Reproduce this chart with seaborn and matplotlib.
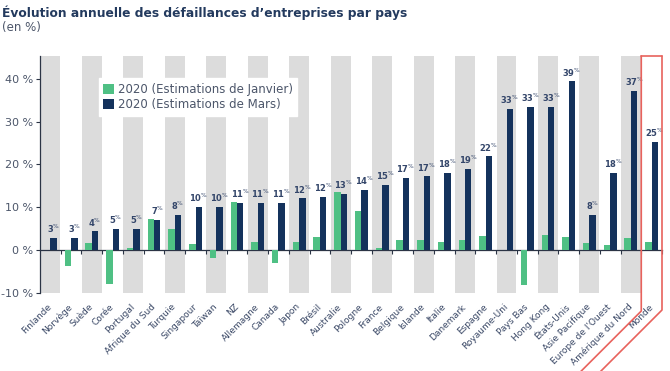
import numpy as np
import pandas as pd
import seaborn as sns
from matplotlib import pyplot as plt
from matplotlib.lines import Line2D
from matplotlib.transforms import IdentityTransform

pays = ["Finlande", "Norvège", "Suède", "Corée", "Portugal", "Afrique du Sud", "Turquie",
        "Singapour", "Taïwan", "NZ", "Allemagne", "Canada", "Japon", "Brésil", "Australie",
        "Pologne", "France", "Belgique", "Islande", "Italie", "Danemark", "Espagne",
        "Royaume-Uni", "Pays Bas", "Hong Kong", "États-Unis", "Asie Pacifique",
        "Europe de l'Ouest", "Amérique du Nord", "Monde"]
janvier = [0.0, -3.7, 1.7, -7.9, 0.5, 7.2, 5.0, 1.5, -1.8, 11.3, 2.0, -3.1, 2.0, 3.0, 13.6,
           9.1, 0.6, 2.3, 2.3, 1.8, 2.3, 3.4, 0.0, -8.2, 3.6, 3.0, 1.7, 1.2, 2.9, 2.0]
mars = [2.9, 2.9, 4.4, 4.9, 4.9, 7.1, 8.2, 10.1, 10.1, 11.0, 11.0, 11.0, 12.1, 12.4, 13.2,
        14.1, 15.2, 16.9, 17.2, 18.0, 19.0, 21.9, 32.9, 33.4, 33.4, 39.4, 8.2, 18.1, 37.1, 25.2]
series = ["2020 (Estimations de Janvier)", "2020 (Estimations de Mars)"]
yticks = [-10, 0, 10, 20, 30, 40]

green = "#4fc084"
navy = "#14325c"
dark = "#2b3445"
txt = "#4c566a"

df = pd.DataFrame({
    "pays": pays * 2,
    "serie": [series[0]] * len(pays) + [series[1]] * len(pays),
    "valeur": janvier + mars,
})

sns.set_theme(style="white")
plt.rcParams['font.family'] = ['DejaVu Sans']

fig = plt.figure(figsize=(6.7, 3.71), dpi=100)
ax = fig.add_axes([40 / 670, 1 - 293 / 371, 622 / 670, 237 / 371])

# alternating grey bands
for i in range(0, len(pays), 2):
    ax.axvspan(i - 0.48, i + 0.48, color="#dcdcdc", lw=0, zorder=0)

sns.barplot(data=df, x="pays", y="valeur", hue="serie", hue_order=series,
            palette=[green, navy], width=0.62, saturation=1, linewidth=0,
            ax=ax, zorder=2)

ax.set_xlim(-0.5, len(pays) - 0.5)
ax.set_ylim(-10, 45.3)
ax.set_xlabel("")
ax.set_ylabel("")

ax.set_yticks(yticks)
ax.set_yticklabels([f"{t} %" for t in yticks], fontsize=8, color=txt)
ax.tick_params(axis="y", length=3, width=0.8, color=dark, pad=2, left=True)

ax.set_xticks(range(len(pays)))
ax.set_xticklabels(pays, rotation=45, ha="right", va="center", rotation_mode="anchor",
                   fontsize=6.5, color="#3a4866")
ax.tick_params(axis="x", length=0, pad=9)

for s in ["top", "right", "bottom"]:
    ax.spines[s].set_visible(False)
ax.spines["left"].set_color(dark)
ax.spines["left"].set_linewidth(0.9)

# zero line with ticks between categories
sec = ax.secondary_xaxis(0, transform=ax.transData)
sec.set_xticks(np.arange(len(pays)) + 0.5, labels=[])
sec.tick_params(direction="out", length=3, width=0.8, color=dark)
for s in ["top", "bottom"]:
    sec.spines[s].set_color(dark)
    sec.spines[s].set_linewidth(0.9)

# value labels over the Mars bars
ax.bar_label(ax.containers[1], labels=[f"{v:.0f}$^{{\\%}}$" for v in mars],
             padding=2, fontsize=6, fontweight="bold", color="#34466a")

handles, labels = ax.get_legend_handles_labels()
ax.legend(handles, labels, loc="upper left", bbox_to_anchor=(0.085, 0.93),
          frameon=True, facecolor="white", edgecolor="white", framealpha=1,
          fancybox=False, fontsize=8.5, handlelength=0.9, handleheight=0.9,
          handletextpad=0.3, labelspacing=0.15, borderpad=0.4, labelcolor=txt)

fig.text(0.003, 1 - 13 / 371, "Évolution annuelle des défaillances d’entreprises par pays",
         fontsize=8.8, fontweight="bold", color="#233a5e", va="center")
fig.text(0.003, 1 - 27 / 371, "(en %)", fontsize=8.5, color=txt, va="center")

# red frame around "Monde"
xl = ax.transData.transform((len(pays) - 1.5, 0))[0]
xr = ax.transData.transform((len(pays) - 0.5, 0))[0]
ytop = ax.transAxes.transform((0, 1))[1]
ybot = ax.transAxes.transform((0, 0))[1]
red = "#e8625c"
fig.add_artist(Line2D([xl, xl, xl - 70], [ytop, ybot - 18, ybot - 88], transform=IdentityTransform(),
                      color=red, lw=1.2))
fig.add_artist(Line2D([xr, xr, xr - 70], [ytop, ybot - 17, ybot - 87], transform=IdentityTransform(),
                      color=red, lw=1.2))
fig.add_artist(Line2D([xl, xr], [ytop, ytop], transform=IdentityTransform(), color=red, lw=1.2))

fig.savefig("out.png", dpi=100)
